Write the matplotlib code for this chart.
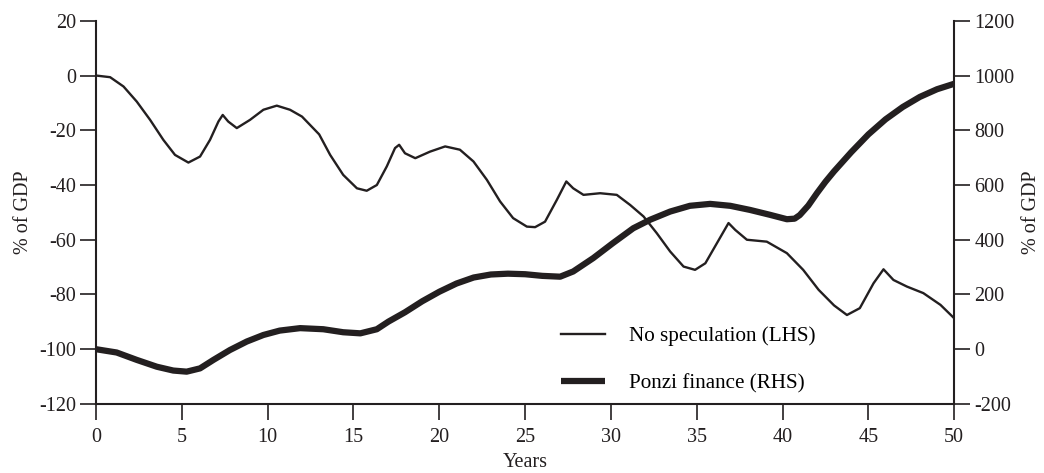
import matplotlib
matplotlib.use("Agg")
import matplotlib.pyplot as plt

plt.rcParams['font.family'] = ['Liberation Serif', 'DejaVu Serif']
plt.rcParams['axes.unicode_minus'] = False

# No speculation (LHS), % of GDP
years_ns = [0, 0.82, 1.6, 2.37, 3.15, 3.92, 4.6, 5.38, 6.06, 6.64, 7.13, 7.38, 7.7, 8.2,
            8.97, 9.75, 10.53, 11.3, 12, 13, 13.64, 14.4, 15.2, 15.77, 16.36, 16.94,
            17.42, 17.66, 18.0, 18.6, 19.46, 20.34, 21.2, 21.99, 22.77, 23.54, 24.3,
            25.1, 25.58, 26.16, 26.85, 27.4, 27.8, 28.4, 29.37, 30.34, 31.12, 31.9,
            32.67, 33.45, 34.23, 34.9, 35.5, 36.17, 36.85, 37.24, 37.92, 39.08, 40.25,
            41.2, 42.1, 43.0, 43.75, 44.5, 45.3, 45.88, 46.46, 47.24, 48.2, 49.2, 50]
no_spec = [0, -0.6, -4, -9.5, -16.2, -23.5, -29, -31.8, -29.6, -23.5, -16.8, -14.4,
           -16.8, -19.2, -16.2, -12.5, -11, -12.5, -15, -21.5, -29, -36.3, -41.2, -42.1,
           -40, -33.2, -26.5, -25.3, -28.4, -30.2, -27.8, -25.9, -27.1, -31.4, -38.1,
           -46, -52.1, -55.2, -55.4, -53.4, -45.4, -38.7, -41.2, -43.6, -43, -43.6,
           -47.3, -51.5, -57.6, -64.3, -69.8, -71, -68.6, -61.3, -53.9, -56.4, -60,
           -60.7, -64.9, -71, -78.3, -84, -87.5, -85, -75.9, -70.8, -74.7, -77.1, -79.5,
           -83.8, -88.7]

# Ponzi finance (RHS), % of GDP
years_pf = [0, 1.2, 2.37, 3.54, 4.5, 5.28, 6.06, 6.84, 7.8, 8.78, 9.75, 10.7, 11.89,
            13.24, 14.4, 15.4, 16.36, 17.04, 18, 19, 20, 21, 22, 23, 24, 25, 26, 27.04,
            27.8, 28.97, 30.1, 31.3, 32.28, 33.45, 34.6, 35.78, 36.95, 38.1, 39.27,
            40.25, 40.7, 41.0, 41.5, 42.0, 42.5, 43, 44, 45, 46, 47, 48, 49, 50]
ponzi = [0, -12, -39, -64, -78, -82, -70, -39, -3, 28, 52, 68, 77, 73, 62, 58, 73, 101,
         135, 175, 210, 240, 262, 273, 276, 274, 268, 265, 284, 333, 387, 442, 473, 503,
         524, 531, 524, 509, 491, 475, 477, 490, 525, 570, 612, 650, 720, 785, 840, 885,
         922, 950, 970]

ink = '#231f20'

fig = plt.figure(figsize=(10.44, 4.73), dpi=100)
ax = fig.add_axes([0.092, 0.146, 0.822, 0.81])
ax2 = ax.twinx()

l1, = ax.plot(years_ns, no_spec, color=ink, lw=1.7, solid_joinstyle='round',
              label='No speculation (LHS)')
l2, = ax2.plot(years_pf, ponzi, color=ink, lw=4.5, solid_joinstyle='round',
               solid_capstyle='butt', label='Ponzi finance (RHS)')

ax.set_xlim(0, 50)
ax.set_ylim(-120, 20)
ax2.set_ylim(-200, 1200)
ax.set_xticks(range(0, 51, 5))
ax.set_yticks(range(-120, 21, 20))
ax2.set_yticks(range(-200, 1201, 200))

for a in (ax, ax2):
    a.spines['top'].set_visible(False)
    for s in a.spines.values():
        s.set_linewidth(1.5)
        s.set_color(ink)
    a.tick_params(direction='out', length=11.5, width=1.2, color=ink,
                  labelsize=14.5, pad=3, labelcolor=ink)
ax.tick_params(axis='x', pad=6)
ax.spines['right'].set_visible(False)
ax2.spines['left'].set_visible(False)
ax2.spines['bottom'].set_visible(False)

ax.set_ylabel('% of GDP', fontsize=14.5, labelpad=4, color=ink)
ax2.set_ylabel('% of GDP', fontsize=14.5, labelpad=5, color=ink)
ax.set_xlabel('Years', fontsize=14.5, labelpad=4, color=ink)

ax2.legend(handles=[l1, l2], loc='lower left', bbox_to_anchor=(0.52, -0.022),
           frameon=False, fontsize=15.2, handlelength=2.05, handletextpad=1.15,
           labelspacing=1.3)

fig.savefig('out.png', dpi=100)
